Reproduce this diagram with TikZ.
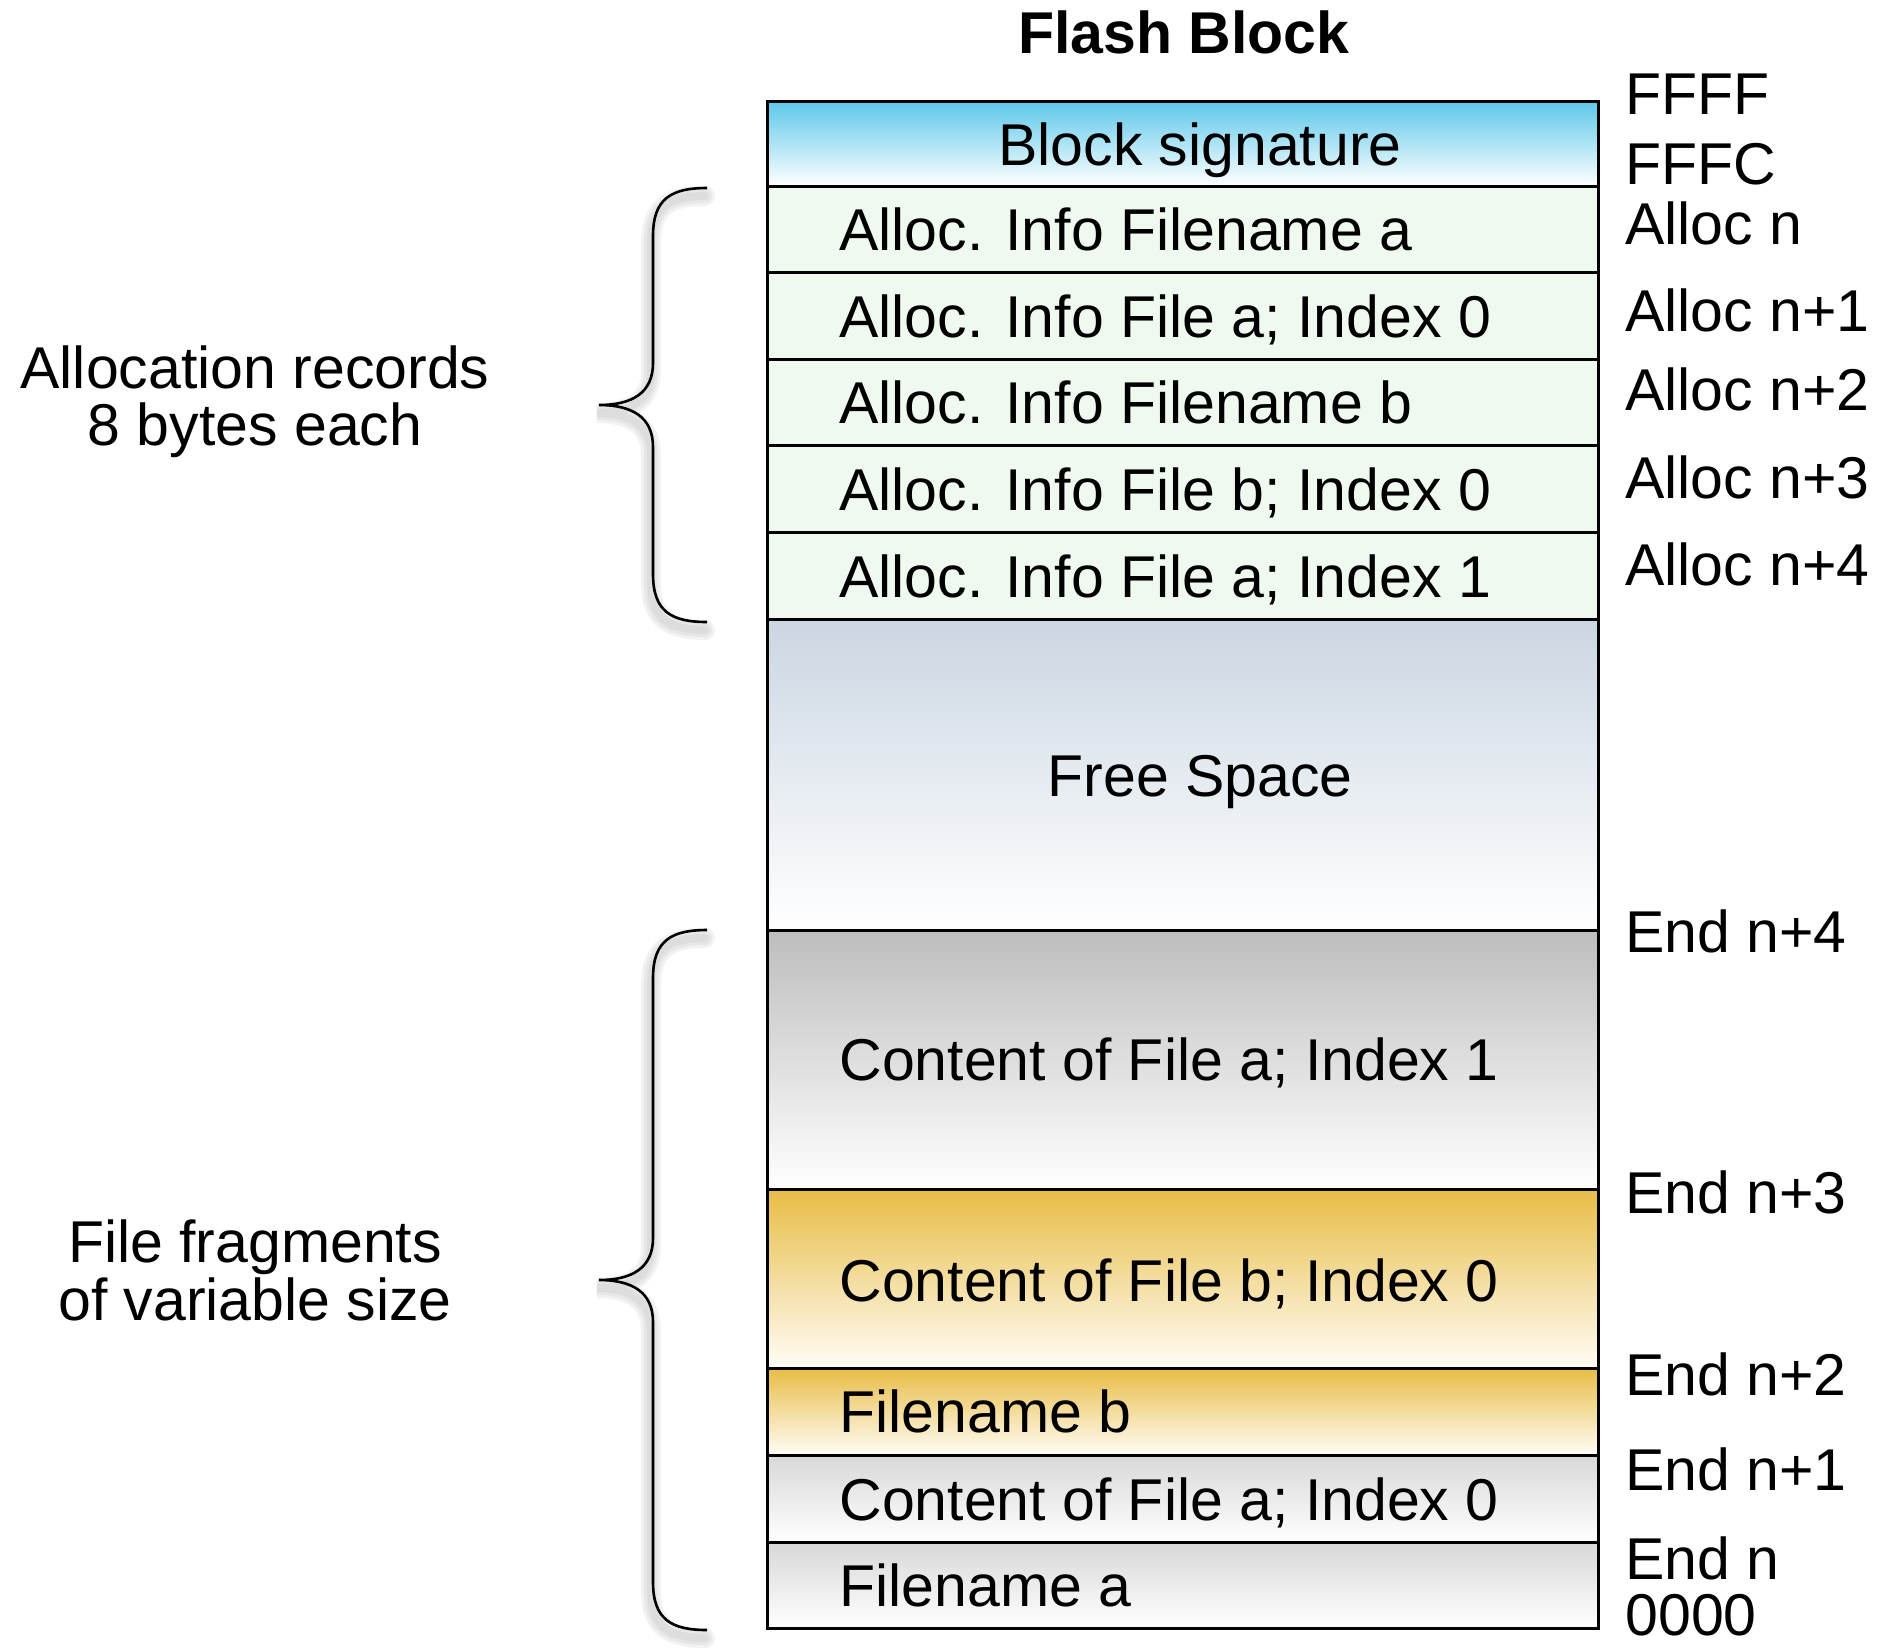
\documentclass[tikz,border=0pt]{standalone}
\usepackage{fontspec}
\setmainfont{Liberation Sans}
\definecolor{sigtop}{HTML}{5CC8EA}
\definecolor{allocfill}{HTML}{EFF9EF}
\definecolor{freetop}{HTML}{CBD6E2}
\definecolor{greytop}{HTML}{BDBDBD}
\definecolor{goldtop}{HTML}{E8BC45}
\definecolor{goldbot}{HTML}{FFFDF6}
\definecolor{lgreytop}{HTML}{D8D8D8}

% one cell of the memory map: name, centre y, height (pt), fill style
\newcommand\cellrow[4]{\node[cell,#4,minimum height=#3pt] (#1) at (1182.75,#2) {};}
% label whose capitals are centred on y
\newcommand\lefttext[4]{\node[txt,anchor=base west] (#1) at (#2,{#3+21}) {#4};}
\newcommand\midtext[4]{\node[txt,anchor=base] (#1) at (#2,{#3+21}) {#4};}
% curly brace opening to the right: top y, tip y, bottom y
\newcommand\bracepath[3]{(707,#1) .. controls (672,#1) and (653,{#1+10}) .. (653,{#1+48})
  -- (653,{#2-42}) .. controls (653,{#2-12}) and (632,#2) .. (599,#2)
  .. controls (632,#2) and (653,{#2+12}) .. (653,{#2+42})
  -- (653,{#3-48}) .. controls (653,{#3-10}) and (672,#3) .. (707,#3)}

\begin{document}
\begin{tikzpicture}[x=0.5pt,y=-0.5pt,
  cell/.style={draw=black,line width=1.5pt,minimum width=415.75pt,inner sep=0pt,rectangle},
  txt/.style={inner sep=0pt,font=\fontsize{29.5}{35}\selectfont},
  bracestyle/.style={line width=1.3pt,black},
  braceshadow/.style={line width=#1,black!40,opacity=0.12,line cap=round}]
\useasboundingbox (0,0) rectangle (1879,1651);
\fill[white] (0,0) rectangle (1879,1651);

% memory cells, top to bottom
\cellrow{sig}{143.5}{42.5}{top color=sigtop,bottom color=white}
\cellrow{al0}{229.25}{43.25}{fill=allocfill}
\cellrow{al1}{315.75}{43.25}{fill=allocfill}
\cellrow{al2}{402.25}{43.25}{fill=allocfill}
\cellrow{al3}{488.75}{43.25}{fill=allocfill}
\cellrow{al4}{575.5}{43.5}{fill=allocfill}
\cellrow{free}{774.5}{155.5}{top color=freetop,bottom color=white}
\cellrow{ca1}{1059.5}{129.5}{top color=greytop,bottom color=white}
\cellrow{cb0}{1278.5}{89.5}{top color=goldtop,bottom color=goldbot}
\cellrow{fnb}{1411.5}{43.5}{top color=goldtop,bottom color=goldbot}
\cellrow{ca0}{1498.5}{43.5}{top color=lgreytop,bottom color=white}
\cellrow{fna}{1585}{43}{top color=lgreytop,bottom color=white}

% title
\node[txt,anchor=base,font=\fontsize{29.5}{35}\selectfont\bfseries] (title) at (1184,53) {Flash Block};

% cell contents
\midtext{tsig}{1200}{144}{Block signature}
\lefttext{tal0}{839}{229}{Alloc. Info Filename a}
\lefttext{tal1}{839}{316}{Alloc. Info File a; Index 0}
\lefttext{tal2}{839}{402.5}{Alloc. Info Filename b}
\lefttext{tal3}{839}{489}{Alloc. Info File b; Index 0}
\lefttext{tal4}{839}{576}{Alloc. Info File a; Index 1}
\midtext{tfree}{1200}{775}{Free Space}
\lefttext{tca1}{839}{1059}{Content of File a; Index 1}
\lefttext{tcb0}{839}{1280}{Content of File b; Index 0}
\lefttext{tfnb}{839}{1411.5}{Filename b}
\lefttext{tca0}{839}{1499}{Content of File a; Index 0}
\lefttext{tfna}{839}{1585}{Filename a}

% addresses
\lefttext{aFFFF}{1625}{93.5}{FFFF}
\lefttext{aFFFC}{1625}{163}{FFFC}
\lefttext{an0}{1625}{223}{Alloc n}
\lefttext{an1}{1625}{310}{Alloc n+1}
\lefttext{an2}{1625}{389.5}{Alloc n+2}
\lefttext{an3}{1625}{477}{Alloc n+3}
\lefttext{an4}{1625}{564}{Alloc n+4}
\lefttext{en4}{1625}{931}{End n+4}
\lefttext{en3}{1625}{1192}{End n+3}
\lefttext{en2}{1625}{1374.5}{End n+2}
\lefttext{en1}{1625}{1469}{End n+1}
\lefttext{en0}{1625}{1558}{End n}
\lefttext{a0000}{1625}{1614}{0000}

% group captions
\midtext{gal1}{255}{367}{Allocation records}
\midtext{gal2}{255}{424}{8 bytes each}
\midtext{gff1}{255}{1241}{File fragments}
\midtext{gff2}{255}{1299}{of variable size}

% braces with a soft drop shadow
\foreach \w in {10pt,7pt,4pt}{
  \draw[braceshadow=\w,xshift=-1pt,yshift=-4pt] \bracepath{188}{405}{622};
  \draw[braceshadow=\w,xshift=-1pt,yshift=-4pt] \bracepath{930}{1280}{1630};
}
\draw[bracestyle] \bracepath{188}{405}{622};
\draw[bracestyle] \bracepath{930}{1280}{1630};
\end{tikzpicture}
\end{document}
